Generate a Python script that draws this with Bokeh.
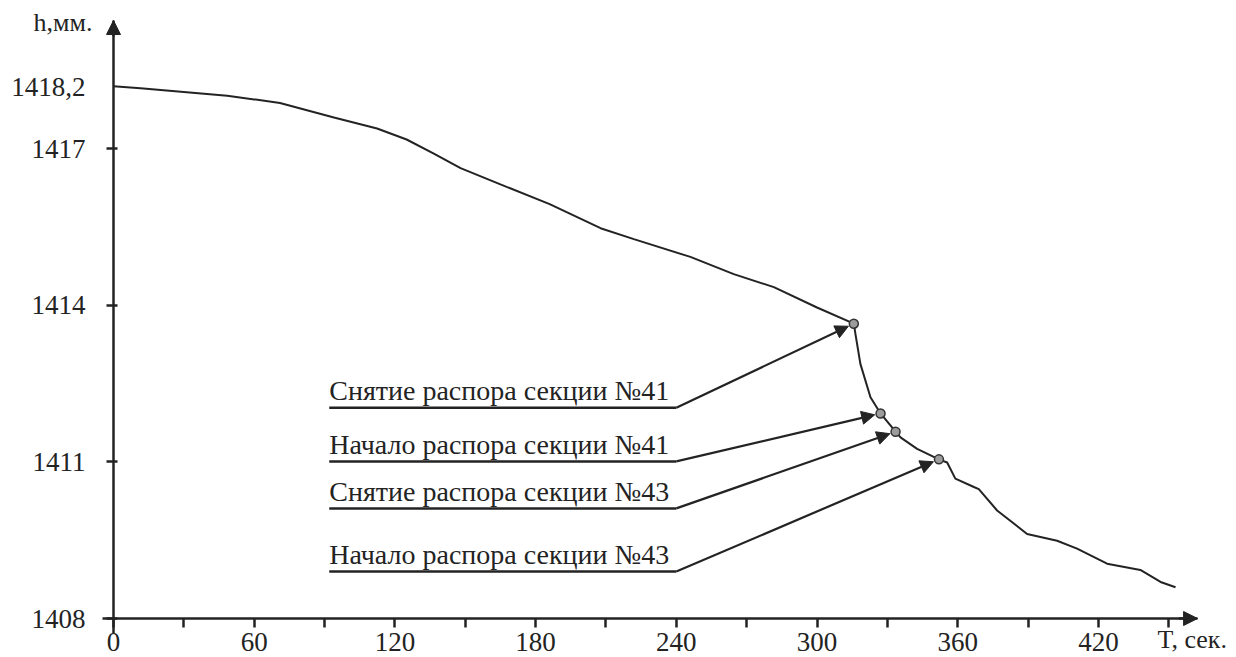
from bokeh.plotting import figure
from bokeh.models import Range1d, FixedTicker, Arrow, NormalHead, Label
from bokeh.embed import file_html
from bokeh.resources import INLINE
from bokeh.core.properties import value

# ---- data ----
t_sec = [0, 11.5, 48.5, 71, 94, 112.4, 125, 136.6, 148, 165, 186, 207.7, 221.9,
         246, 264.5, 281.6, 300, 315.7, 316.4, 318.5, 322.8, 327.1, 333.5, 335.6,
         342.7, 352.0, 355.5, 359, 366.9, 369, 376.8, 389.6, 402.4, 410.9, 423.7,
         437.9, 446.5, 452.9]
h_mm = [1418.2, 1418.16, 1418.02, 1417.88, 1417.60, 1417.39, 1417.18, 1416.91,
        1416.63, 1416.32, 1415.94, 1415.48, 1415.27, 1414.93, 1414.60, 1414.35,
        1413.96, 1413.65, 1413.45, 1412.88, 1412.24, 1411.93, 1411.58, 1411.47,
        1411.25, 1411.05, 1410.99, 1410.68, 1410.52, 1410.48, 1410.07, 1409.62,
        1409.49, 1409.34, 1409.05, 1408.93, 1408.70, 1408.60]

event_names = ["Снятие распора секции №41", "Начало распора секции №41",
               "Снятие распора секции №43", "Начало распора секции №43"]
event_t = [315.7, 327.1, 333.5, 352.0]
event_h = [1413.65, 1411.93, 1411.58, 1411.05]
leader_h = [1412.04, 1411.01, 1410.11, 1408.90]
leader_t0 = [92, 92, 92, 92]
leader_t1 = [240, 240, 240, 240]

x_ticks = [0, 30, 60, 90, 120, 150, 180, 210, 240, 270, 300, 330, 360, 390, 420, 450]
x_tick_text = ["0", "", "60", "", "120", "", "180", "", "240", "", "300", "", "360", "", "420", ""]
y_ticks = [1408, 1411, 1414, 1417]
y_tick_text = ["1408", "1411", "1414", "1417"]
y_start_value = 1418.2
y_start_label = "1418,2"
y_axis_title = "h,мм."
x_axis_title = "T, сек."

# ---- layout ----
W, H = 1236, 657
PX_S = 2.345      # pixels per second
PX_H = 52.18      # pixels per mm
X_LO = -113 / PX_S
X_HI = X_LO + W / PX_S
Y_HI = 1408 + 618 / PX_H
Y_LO = Y_HI - H / PX_H
AX_X = (-4.8, 462.3)
AX_Y = (1407.71, 1419.46)
INK = "#232323"
FONT = "Liberation Serif"

p = figure(width=W, height=H, output_backend="svg", toolbar_location=None,
           x_range=Range1d(X_LO, X_HI), y_range=Range1d(Y_LO, Y_HI),
           min_border=0, min_border_left=0, min_border_right=0,
           min_border_top=0, min_border_bottom=0)
p.outline_line_color = None
p.grid.visible = False
p.background_fill_color = "white"
p.border_fill_color = "white"

for ax in (p.xaxis[0], p.yaxis[0]):
    ax.axis_line_color = INK
    ax.axis_line_width = 2.5
    ax.major_tick_line_color = INK
    ax.major_tick_line_width = 2.5
    ax.minor_tick_line_color = None
    ax.major_label_text_font = FONT
    ax.major_label_text_font_size = "27px"
    ax.major_label_text_color = INK

p.xaxis.fixed_location = 1408
p.xaxis.bounds = AX_X
p.yaxis.fixed_location = 0
p.yaxis.bounds = AX_Y
p.xaxis.ticker = FixedTicker(ticks=x_ticks)
p.xaxis.major_label_overrides = {t: s for t, s in zip(x_ticks, x_tick_text)}
p.xaxis.major_tick_in = 0
p.xaxis.major_tick_out = 9
p.xaxis.major_label_standoff = 5
p.yaxis.ticker = FixedTicker(ticks=y_ticks)
p.yaxis.major_label_overrides = {t: s for t, s in zip(y_ticks, y_tick_text)}
p.yaxis.major_tick_in = 4
p.yaxis.major_tick_out = 7
p.yaxis.major_label_standoff = 21

# axis arrow heads
p.add_layout(Arrow(end=NormalHead(size=14, fill_color=INK, line_color=INK),
                   x_start=AX_X[1] - 8, y_start=1408, x_end=AX_X[1], y_end=1408,
                   line_color=INK, line_width=2.5))
p.add_layout(Arrow(end=NormalHead(size=14, fill_color=INK, line_color=INK),
                   x_start=0, y_start=AX_Y[1] - 0.3, x_end=0, y_end=AX_Y[1],
                   line_color=INK, line_width=2.5))

# curve
p.line(t_sec, h_mm, line_color=INK, line_width=2)

# leaders + arrows
p.segment(x0=leader_t0, y0=leader_h, x1=leader_t1, y1=leader_h,
          line_color=INK, line_width=2.5)
for t1, lh, et, eh in zip(leader_t1, leader_h, event_t, event_h):
    dx = (et - t1) * PX_S
    dy = (eh - lh) * PX_H
    d = (dx * dx + dy * dy) ** 0.5
    k = (d - 6) / d
    p.add_layout(Arrow(end=NormalHead(size=13, fill_color=INK, line_color=INK),
                       x_start=t1, y_start=lh,
                       x_end=t1 + (et - t1) * k, y_end=lh + (eh - lh) * k,
                       line_color=INK, line_width=2.2))

text_y = [h + 17 / PX_H for h in leader_h]
p.text(x=leader_t0, y=text_y, text=event_names,
       text_font=value(FONT), text_font_size="28px", text_color=INK,
       text_baseline="middle", text_align="left")

p.scatter(event_t, event_h, size=9, fill_color="#9c9c9c", line_color="#333333",
          line_width=1.5)

# axis labels and the start value
p.add_layout(Label(x=-28 / PX_S, y=y_start_value - 1 / PX_H, text=y_start_label,
                   text_align="right", text_baseline="middle",
                   text_font=FONT, text_font_size="27px", text_color=INK))
p.add_layout(Label(x=-21 / PX_S, y=1408 + (618 - 22) / PX_H, text=y_axis_title,
                   text_align="right", text_baseline="middle",
                   text_font=FONT, text_font_size="26px", text_color=INK))
p.add_layout(Label(x=445.2, y=1408 - (639 - 618) / PX_H, text=x_axis_title,
                   text_align="left", text_baseline="middle",
                   text_font=FONT, text_font_size="26px", text_color=INK))

open("out.html", "w").write(file_html(p, INLINE))
